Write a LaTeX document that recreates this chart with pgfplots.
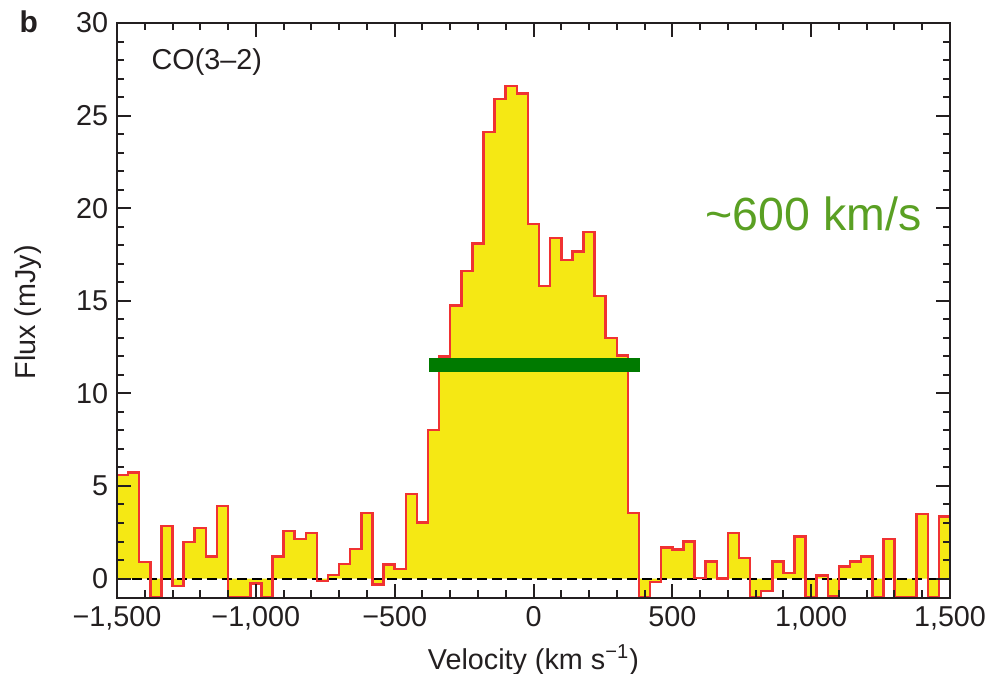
\documentclass[border=0pt]{standalone}
\usepackage{pgfplots}
\pgfplotsset{compat=1.18}
\usepackage{pgfplotstable}
\usepackage{fontspec}
\setmainfont{Liberation Sans}

\definecolor{histyellow}{RGB}{245,232,20}
\definecolor{histred}{RGB}{240,50,50}
\definecolor{bargreen}{RGB}{0,122,0}
\definecolor{textgreen}{RGB}{90,160,35}
\definecolor{inkgray}{RGB}{35,31,32}

% CO(3-2) spectrum, 40 km/s channels, left edge of each channel
\pgfplotstableread{
v flux
-1540 -2
-1500 5.60
-1460 5.72
-1420 0.90
-1380 -1.0
-1340 2.85
-1300 -0.41
-1260 1.97
-1220 2.73
-1180 1.20
-1140 3.93
-1100 -1.0
-1060 -1.0
-1020 -0.27
-980 -1.0
-940 1.20
-900 2.58
-860 2.14
-820 2.46
-780 -0.14
-740 0.18
-700 0.79
-660 1.60
-620 3.54
-580 -0.32
-540 0.75
-500 0.52
-460 4.56
-420 3.03
-380 8.02
-340 12.0
-300 14.75
-260 16.6
-220 18.1
-180 24.1
-140 25.9
-100 26.6
-60 26.2
-20 19.15
20 15.8
60 18.4
100 17.2
140 17.65
180 18.7
220 15.25
260 13.0
300 12.05
340 3.54
380 -1.0
420 -0.18
460 1.69
500 1.56
540 2.0
580 0.02
620 0.93
660 0.0
700 2.46
740 1.11
780 -1.0
820 -0.68
860 0.93
900 0.31
940 2.28
980 -1.0
1020 0.16
1060 -0.95
1100 0.66
1140 0.93
1180 1.20
1220 -1.0
1260 2.14
1300 -1.0
1340 -1.0
1380 3.48
1420 -1.0
1460 3.36
1500 3.36
}\cospec

\begin{document}
\begin{tikzpicture}
\useasboundingbox (-46.8pt,-30.4pt) rectangle (348.8pt,239.2pt);
\begin{axis}[
  at={(0,0)}, anchor=south west,
  scale only axis, width=333.2pt, height=230pt,
  xmin=-1500, xmax=1500, ymin=-1.05, ymax=30,
  xtick={-1500,-1000,...,1500},
  xticklabels={{−1,500},{−1,000},{−500},0,500,{1,000},{1,500}},
  ytick={0,5,...,30},
  minor x tick num=4, minor y tick num=4,
  tick align=inside,
  major tick length=5.6pt, minor tick length=3pt,
  every tick/.style={inkgray, line width=0.8pt},
  axis line style={inkgray, line width=0.8pt},
  axis on top,
  clip mode=individual,
  /pgf/number format/assume math mode=true,
  ticklabel style={font=\fontsize{11.5}{13}\selectfont, text=inkgray},
  xlabel={Velocity (km s\textsuperscript{−1})},
  ylabel={Flux (mJy)},
  label style={font=\fontsize{11.5}{13}\selectfont, text=inkgray},
  xlabel style={at={(axis description cs:0.5,-0.108)}, anchor=center},
  ylabel style={at={(axis description cs:-0.107,0.497)}, anchor=center, rotate=0},
]
\addplot[const plot, fill=histyellow, draw=none] table[x=v, y=flux] {\cospec} \closedcycle;
\addplot[black, line width=0.8pt, dash pattern=on 4pt off 2pt] coordinates {(-1500,0) (1500,0)};
\addplot[const plot, histred, line width=1pt] table[x=v, y=flux] {\cospec};
% line width marker
\addplot[bargreen, line width=5.8pt, line cap=butt] coordinates {(-375,11.54) (385,11.54)};
\node[text=textgreen, font=\fontsize{18.6}{20}\selectfont, anchor=center] at (axis cs:1009,19.7) {\textasciitilde600 km/s};
\node[text=inkgray, font=\bfseries\fontsize{12}{14}\selectfont, anchor=center] at (rel axis cs:-0.106,1.0017) {b};
\node[text=inkgray, font=\fontsize{11.5}{13}\selectfont, anchor=west] at (rel axis cs:0.031,0.932) {CO(3–2)};
\end{axis}
\end{tikzpicture}
\end{document}
